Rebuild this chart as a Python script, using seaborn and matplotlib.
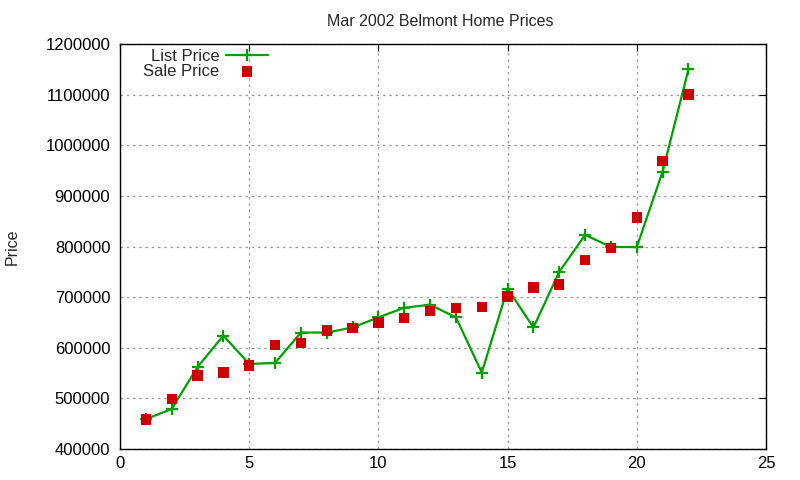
import matplotlib
matplotlib.use("Agg")
import matplotlib.pyplot as plt
import seaborn as sns
import pandas as pd

# house index and prices
house = list(range(1, 23))
list_price = [459000, 479000, 562000, 624000, 568000, 570000, 630000, 630000, 640000, 660000, 679000,
              685000, 660000, 551000, 717000, 640000, 750000, 823000, 799000, 799000, 948000, 1150000]
sale_price = [458000, 499000, 545000, 551000, 565000, 606000, 610000, 634000, 639000, 650000, 659000,
              673000, 679000, 681000, 701000, 719000, 725000, 773000, 797000, 857000, 969000, 1100000]

df = pd.DataFrame({"house": house, "list": list_price, "sale": sale_price})

sns.set_style("white")
plt.rcParams["font.family"] = ["Liberation Sans", "DejaVu Sans"]

fig = plt.figure(figsize=(8, 4.8), dpi=100)
ax = fig.add_axes([0.15, 0.0646, 0.8075, 0.8437])

sns.lineplot(data=df, x="house", y="list", ax=ax, color="#00a000", linewidth=1.6,
             marker="+", markersize=9, markeredgewidth=1.6, markeredgecolor="#00a000",
             label="List Price")
sns.scatterplot(data=df, x="house", y="sale", ax=ax, color="#cc0000", marker="s",
                s=55, edgecolor="none", label="Sale Price", zorder=3)

ax.set_xlim(0, 25)
ax.set_ylim(400000, 1200000)
ax.set_xticks(range(0, 26, 5))
ax.set_yticks(range(400000, 1200001, 100000))
ax.ticklabel_format(style="plain", axis="y")
ax.grid(True, color="#999999", linestyle=(0, (2, 3)), linewidth=0.9)
ax.tick_params(direction="in", length=5, top=True, right=True, labelsize=12, colors="black")
ax.tick_params(axis="y", pad=7)
ax.tick_params(axis="x", pad=5)
for s in ax.spines.values():
    s.set_color("black")
    s.set_linewidth(1)

ax.set_xlabel("")
ax.set_ylabel("")
fig.text(12 / 800, 0.486, "Price", rotation=90, ha="center", va="center", fontsize=11.5)
fig.text(0.55, 0.956, "Mar 2002 Belmont Home Prices", ha="center", va="center", fontsize=11.5)

ax.legend(loc="upper right", bbox_to_anchor=(268 / 800, 1 - 49 / 480),
          bbox_transform=fig.transFigure, frameon=False, markerfirst=False,
          fontsize=12, handlelength=2.5, borderpad=0, borderaxespad=0,
          labelspacing=0.0, handletextpad=0.42)

fig.savefig("out.png", dpi=100)
